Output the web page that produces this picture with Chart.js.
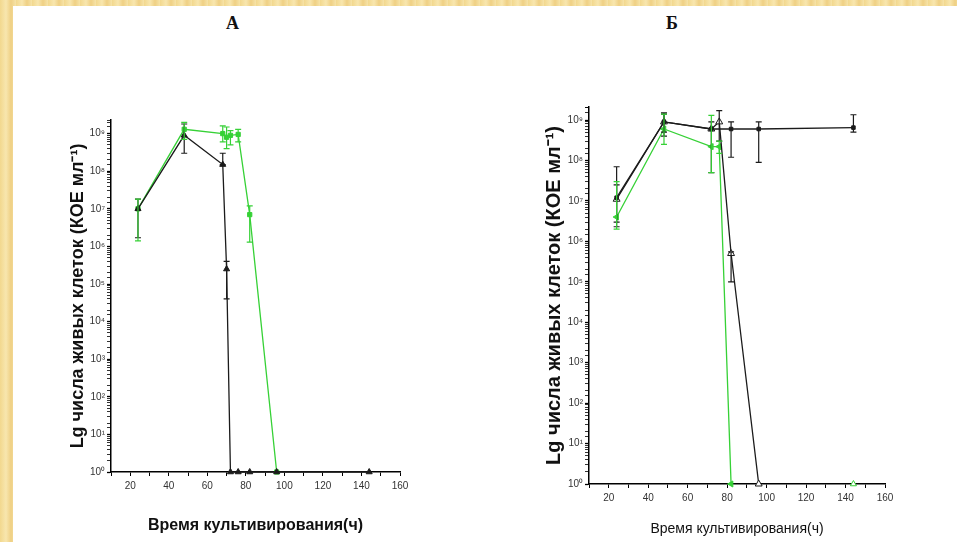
<!DOCTYPE html>
<html lang="ru">
<head>
<meta charset="utf-8">
<title>Lg числа живых клеток</title>
<script src="https://cdn.jsdelivr.net/npm/chart.js@4.4.1/dist/chart.umd.min.js"></script>
<style>
  html, body { margin: 0; padding: 0; }
  body {
    width: 957px; height: 542px; overflow: hidden; position: relative;
    background: repeating-linear-gradient(90deg, #f2d88e 0px, #f8e6ae 6px, #efd084 11px, #f6e3a8 16px);
  }
  #sheet { position: absolute; left: 13px; top: 6px; right: 0; bottom: 0; background: #fff; }
  .letter { position: absolute; top: 13px; font: bold 18px 'Liberation Serif', 'DejaVu Serif', serif; color: #111; }
  canvas { position: absolute; }
</style>
</head>
<body>
<div id="sheet"></div>
<div class="letter" style="left:226px">А</div>
<div class="letter" style="left:666px">Б</div>
<canvas id="chartA" width="360" height="442" style="left:60px; top:100px"></canvas>
<canvas id="chartB" width="380" height="462" style="left:530px; top:80px"></canvas>
<script>
// ---- data ----
// y tick labels, one per decade
const yTickLabels = ['10⁰', '10¹', '10²', '10³', '10⁴', '10⁵', '10⁶', '10⁷', '10⁸', '10⁹'];
const yTitle = 'Lg числа живых клеток (КОЕ мл⁻¹)';
const xTitle = 'Время культивирования(ч)';

// panel A, black (filled triangles)
const hoursA1 = [24, 48, 68, 70, 72, 76, 82, 96, 144];
const cfuA1   = [1e7, 9e8, 1.5e8, 2.5e5, 1, 1, 1, 1, 1];
const lowA1   = [1.7e6, 3e8, 1.5e8, 4e4, null, null, null, null, null];
const highA1  = [1.8e7, 1.8e9, 3e8, 4e5, null, null, null, null, null];

// panel A, green (filled squares)
const hoursA2 = [24, 48, 68, 70, 72, 76, 82, 96];
const cfuA2   = [1e7, 1.3e9, 1e9, 8e8, 9e8, 9.5e8, 7e6, 1];
const lowA2   = [1.4e6, 7e8, 6e8, 4e8, 5e8, 6e8, 1.3e6, null];
const highA2  = [1.8e7, 2e9, 1.6e9, 1.5e9, 1.2e9, 1.3e9, 1.2e7, null];

// panel B, black (filled squares)
const hoursB1 = [24, 48, 72, 82, 96, 144];
const cfuB1   = [1.2e7, 9e8, 6e8, 6e8, 6e8, 6.5e8];
const lowB1   = [3e6, 4e8, 5e7, 1.2e8, 9e7, 5e8];
const highB1  = [2.5e7, 1.4e9, 9e8, 9e8, 9e8, 1.35e9];

// panel B, black (open triangles)
const hoursB2 = [24, 48, 72, 76, 82, 96];
const cfuB2   = [1.1e7, 9e8, 6e8, 9e8, 5e5, 1];
const lowB2   = [2.3e6, 5e8, null, 3e8, 1e5, null];
const highB2  = [7e7, 1.5e9, null, 1.7e9, 5.5e5, null];

// panel B, green (filled triangles)
const hoursB3 = [24, 48, 72, 76, 82];
const cfuB3   = [4e6, 6e8, 2.2e8, 2.2e8, 1];
const lowB3   = [2e6, 2.5e8, 5e7, 1.5e8, null];
const highB3  = [3e7, 1.4e9, 1.3e9, 3e8, null];
// lone green marker lying on the x axis
const hoursB3tail = [144];
const cfuB3tail   = [1];

const BLACK = '#1b1b1b';
const GREEN = '#36d136';
const SANS = "'Liberation Sans', Arial, sans-serif";

const toPoints = (xs, ys) => xs.map((x, i) => ({ x: x, y: ys[i] }));

// vertical error bars, drawn through the chart scales
const errorBars = {
  id: 'errorBars',
  afterDatasetsDraw(chart) {
    const { ctx } = chart;
    const xs = chart.scales.x, ys = chart.scales.y;
    chart.data.datasets.forEach(ds => {
      if (!ds.low) return;
      ctx.save();
      ctx.strokeStyle = ds.borderColor;
      ctx.lineWidth = 1.2;
      ds.data.forEach((p, j) => {
        const lo = ds.low[j], hi = ds.high[j];
        if (lo == null || hi == null) return;
        const px = xs.getPixelForValue(p.x);
        const y1 = ys.getPixelForValue(lo), y2 = ys.getPixelForValue(hi);
        ctx.beginPath();
        ctx.moveTo(px, y1); ctx.lineTo(px, y2);
        ctx.moveTo(px - 3, y1); ctx.lineTo(px + 3, y1);
        ctx.moveTo(px - 3, y2); ctx.lineTo(px + 3, y2);
        ctx.stroke();
      });
      ctx.restore();
    });
  }
};

function series(xs, ys, lo, hi, color, style, extra) {
  return Object.assign({
    data: toPoints(xs, ys),
    low: lo, high: hi,
    borderColor: color,
    backgroundColor: color,
    pointBackgroundColor: color,
    pointBorderColor: color,
    borderWidth: 1.3,
    pointStyle: style,
    pointRadius: 3.5,
    pointBorderWidth: 1,
    tension: 0,
    clip: false
  }, extra || {});
}

function makePanel(id, datasets, o) {
  return new Chart(document.getElementById(id), {
    type: 'line',
    data: { datasets: datasets },
    plugins: [errorBars],
    options: {
      responsive: false,
      animation: false,
      devicePixelRatio: 1,
      layout: { padding: { top: o.padTop, right: o.padRight, left: 0, bottom: 0 } },
      plugins: { legend: { display: false }, tooltip: { enabled: false } },
      scales: {
        x: {
          type: 'linear', min: 10, max: 160,
          afterFit(scale) { scale.height = o.xHeight; },
          grid: { drawOnChartArea: false, drawTicks: true, tickLength: 4, color: '#000' },
          border: { color: '#000', width: 1.5 },
          ticks: {
            stepSize: 10, autoSkip: false, maxRotation: 0, padding: 4,
            color: '#333', font: { family: SANS, size: 10 },
            callback: v => (v % 20 === 0 ? String(v) : '')
          },
          title: {
            display: true, text: xTitle, color: '#111',
            font: { family: SANS, size: o.xTitleSize, weight: o.xTitleWeight },
            padding: { top: 0, bottom: o.xTitlePad }
          }
        },
        y: {
          type: 'logarithmic', min: 1, max: o.yMax,
          afterFit(scale) { scale.width = o.yWidth; },
          grid: {
            drawOnChartArea: false, drawTicks: true, tickLength: 4, color: '#000',
            tickWidth: c => (c.tick && c.tick.label ? 1.3 : 0.8)
          },
          border: { color: '#000', width: 1.5 },
          ticks: {
            autoSkip: false, padding: 2, color: '#333',
            font: { family: SANS, size: 10 },
            callback: v => {
              const e = Math.log10(v);
              const r = Math.round(e);
              return (Math.abs(e - r) < 1e-9 && r >= 0 && r < yTickLabels.length) ? yTickLabels[r] : '';
            }
          },
          title: {
            display: true, text: yTitle, color: '#111',
            font: { family: SANS, size: o.yTitleSize, weight: 'bold' },
            padding: { top: o.yTitlePad, bottom: 0 }
          }
        }
      }
    }
  });
}

Chart.defaults.font.family = SANS;

makePanel('chartA', [
  series(hoursA1, cfuA1, lowA1, highA1, BLACK, 'triangle'),
  series(hoursA2, cfuA2, lowA2, highA2, GREEN, 'rect', { pointRadius: 3 })
], {
  padTop: 20, padRight: 20, xHeight: 70, yWidth: 51, yMax: 2.3e9,
  xTitleSize: 16, xTitleWeight: 'bold', xTitlePad: 7,
  yTitleSize: 18, yTitlePad: 7
});

makePanel('chartB', [
  series(hoursB1, cfuB1, lowB1, highB1, BLACK, 'rect', { pointRadius: 2.5 }),
  series(hoursB2, cfuB2, lowB2, highB2, BLACK, 'triangle', { pointBackgroundColor: '#fff', pointRadius: 4 }),
  series(hoursB3, cfuB3, lowB3, highB3, GREEN, 'triangle', { pointRotation: -90 }),
  series(hoursB3tail, cfuB3tail, null, null, GREEN, 'triangle', { showLine: false, pointBackgroundColor: '#fff' })
], {
  padTop: 27, padRight: 25, xHeight: 58, yWidth: 59, yMax: 2.1e9,
  xTitleSize: 14, xTitleWeight: 'normal', xTitlePad: 4,
  yTitleSize: 20, yTitlePad: 12
});
</script>
</body>
</html>
